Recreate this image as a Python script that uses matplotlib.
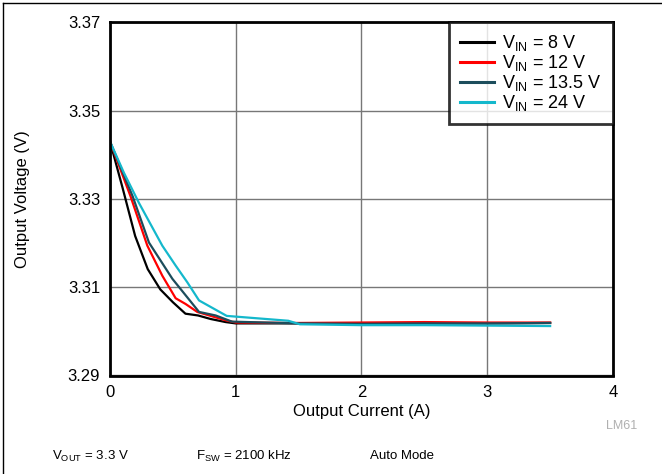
import matplotlib
matplotlib.use("Agg")
import matplotlib.pyplot as plt
from matplotlib.lines import Line2D

plt.rcParams['font.family'] = ['Liberation Sans', 'DejaVu Sans']
plt.rcParams['mathtext.fontset'] = 'custom'
plt.rcParams['mathtext.rm'] = 'Liberation Sans'
plt.rcParams['mathtext.it'] = 'Liberation Sans'

# Output current (A) and output voltage (V) per input voltage
i_8v = [0, 0.1, 0.2, 0.3, 0.4, 0.5, 0.6, 0.7, 0.8, 0.92, 1.0, 1.5, 2.0, 2.5, 3.0, 3.5]
v_8v = [3.343, 3.3325, 3.3216, 3.3141, 3.3095, 3.3066, 3.3040, 3.3036, 3.3028, 3.3021,
        3.3018, 3.3018, 3.3017, 3.3018, 3.3018, 3.3019]

i_12v = [0, 0.163, 0.297, 0.416, 0.522, 0.601, 0.694, 0.92, 1.0, 1.5, 2.0, 2.5, 3.0, 3.5]
v_12v = [3.343, 3.3306, 3.3194, 3.3126, 3.3075, 3.3062, 3.3044, 3.3025, 3.3020,
         3.3019, 3.3020, 3.3021, 3.3020, 3.3020]

i_13v5 = [0, 0.18, 0.31, 0.496, 0.708, 0.84, 0.97, 1.5, 2.0, 2.5, 3.0, 3.5]
v_13v5 = [3.343, 3.3306, 3.3201, 3.3119, 3.3044, 3.3036, 3.3022, 3.3018, 3.3017,
          3.3018, 3.3018, 3.3019]

i_24v = [0, 0.111, 0.23, 0.416, 0.522, 0.615, 0.708, 0.928, 1.418, 1.51, 2.0, 2.5, 3.0, 3.5]
v_24v = [3.343, 3.3359, 3.3291, 3.3194, 3.3149, 3.3111, 3.3070, 3.3035, 3.3024,
         3.3016, 3.3014, 3.3014, 3.3013, 3.3012]

labels = [r'V$_{\mathrm{IN}}$ = 8 V', r'V$_{\mathrm{IN}}$ = 12 V',
          r'V$_{\mathrm{IN}}$ = 13.5 V', r'V$_{\mathrm{IN}}$ = 24 V']
colors = ['#000000', '#ff0000', '#1c4d5c', '#14b8cc']

fig = plt.figure(figsize=(6.62, 4.74), dpi=100)
ax = fig.add_axes([110 / 662, 1 - 375.5 / 474, 503 / 662, 353.2 / 474])

series = [(i_8v, v_8v), (i_12v, v_12v), (i_13v5, v_13v5), (i_24v, v_24v)]
for (x, y), lab, c in zip(series, labels, colors):
    ax.plot(x, y, color=c, lw=1.6, label=lab)

ax.set_xlim(0, 4)
ax.set_ylim(3.29, 3.37)
ax.set_xticks([0, 1, 2, 3, 4])
ax.set_yticks([3.29, 3.31, 3.33, 3.35, 3.37])
ax.set_yticklabels(['3.29', '3.31', '3.33', '3.35', '3.37'])
ax.grid(True, color='#777777', lw=1.0)
ax.set_axisbelow(True)
ax.tick_params(length=0, labelsize=12, pad=7)
for s in ax.spines.values():
    s.set_linewidth(2)
    s.set_color('black')

ax.set_xlabel('Output Current (A)', fontsize=12, labelpad=3)
ax.set_ylabel('Output Voltage (V)', fontsize=12, labelpad=27)

leg = ax.legend(loc='upper right', fontsize=13, frameon=True, fancybox=False,
                handlelength=1.9, handletextpad=0.45, labelspacing=0.0,
                borderpad=0.6, borderaxespad=0.0)
leg.get_frame().set_edgecolor('black')
leg.get_frame().set_linewidth(2)
for h in leg.get_lines():
    h.set_linewidth(2.2)

# footer notes
fig.text(52 / 662, 1 - 456 / 474, r'V$_{\mathrm{OUT}}$ = 3.3 V', fontsize=9.5, va='center')
fig.text(196 / 662, 1 - 456 / 474, r'F$_{\mathrm{SW}}$ = 2100 kHz', fontsize=9.5, va='center')
fig.text(370 / 662, 1 - 456 / 474, 'Auto Mode', fontsize=9.5, va='center')
fig.text(637 / 662, 1 - 426 / 474, 'LM61', fontsize=9, color='#b0b0b0', ha='right', va='center')

# outer frame lines (left and top)
fig.add_artist(Line2D([3 / 662, 3 / 662], [0, 1 - 3 / 474], transform=fig.transFigure,
                      color='black', lw=1))
fig.add_artist(Line2D([3 / 662, 1], [1 - 3 / 474, 1 - 3 / 474], transform=fig.transFigure,
                      color='black', lw=1))

fig.savefig('out.png', dpi=100)
